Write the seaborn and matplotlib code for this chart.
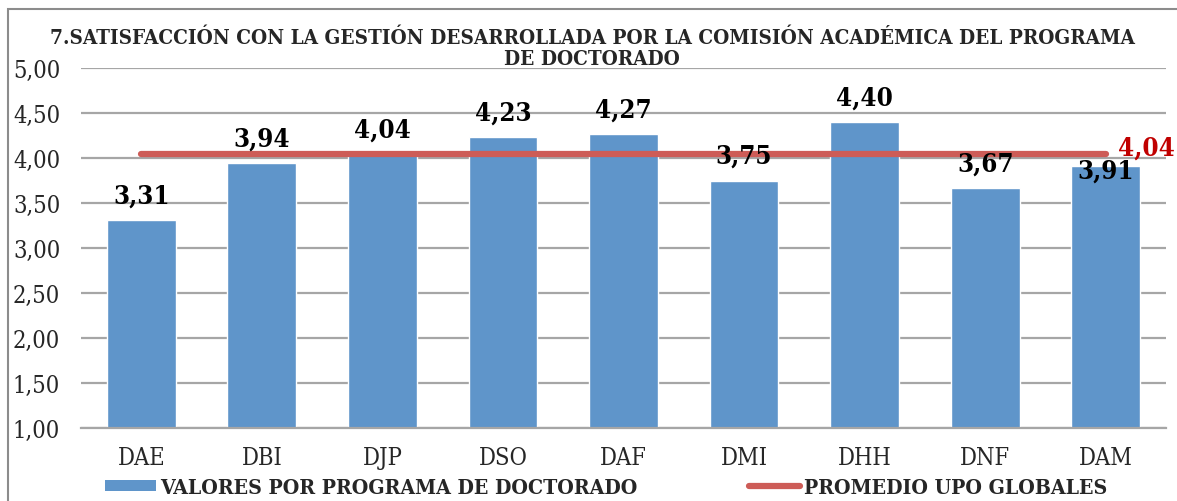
import matplotlib
matplotlib.use("Agg")
import matplotlib.pyplot as plt
import seaborn as sns
import pandas as pd
from matplotlib.patches import Rectangle, Patch
from matplotlib.lines import Line2D
from matplotlib import font_manager as fm

categories = ["DAE", "DBI", "DJP", "DSO", "DAF", "DMI", "DHH", "DNF", "DAM"]
values = [3.31, 3.94, 4.04, 4.23, 4.27, 3.75, 4.40, 3.67, 3.91]
average = 4.04
yticks = [1.0, 1.5, 2.0, 2.5, 3.0, 3.5, 4.0, 4.5, 5.0]
title = "7.SATISFACCIÓN CON LA GESTIÓN DESARROLLADA POR LA COMISIÓN ACADÉMICA DEL PROGRAMA\nDE DOCTORADO"
bar_label = "VALORES POR PROGRAMA DE DOCTORADO"
line_label = "PROMEDIO UPO GLOBALES"

sns.set_theme(style="white")
condensed = [f for f in fm.fontManager.ttflist if "Condensed" in f.fname and "Serif" in f.fname]
FAM = "DejaVu Serif" if condensed else "Liberation Serif"
plt.rcParams["font.family"] = [FAM, "DejaVu Sans"]
STRETCH = "condensed"

bar_color = "#5F95CA"
line_color = "#CD5C57"
grid_color = "#A6A6A6"

fig = plt.figure(figsize=(11.77, 5.02), dpi=100)
ax = fig.add_axes([81 / 1177, 1 - 429 / 502, (1166 - 81) / 1177, (429 - 69) / 502])

df = pd.DataFrame({"cat": categories, "val": values})
sns.barplot(data=df, x="cat", y="val", color=bar_color, width=0.57, ax=ax,
            saturation=1, zorder=2)
dfa = pd.DataFrame({"cat": categories, "avg": [average] * len(categories)})
sns.lineplot(data=dfa, x="cat", y="avg", color=line_color, linewidth=4.5, ax=ax,
             zorder=3, solid_capstyle="round")

ax.set_ylim(1, 5)
ax.set_xlim(-0.5, len(categories) - 0.5)
ax.set_yticks(yticks)
ax.set_yticklabels([f"{v:.2f}".replace(".", ",") for v in yticks],
                   fontsize=17, fontstretch=STRETCH)
ax.set_xticks(range(len(categories)))
ax.set_xticklabels(categories, fontsize=17, fontstretch=STRETCH)
ax.tick_params(axis="y", length=0, pad=15)
ax.tick_params(axis="x", length=0, pad=13)
ax.set_xlabel("")
ax.set_ylabel("")
ax.yaxis.grid(True, color=grid_color, linewidth=1.6, zorder=0)
ax.set_axisbelow(True)
for s in ["top", "right", "left"]:
    ax.spines[s].set_visible(False)
ax.spines["bottom"].set_color(grid_color)
ax.spines["bottom"].set_linewidth(1.6)

last = len(values) - 1
for i, v in enumerate(values):
    txt = f"{v:.2f}".replace(".", ",")
    if i == last:
        # last label sits on the bar top, clear of the average value label
        ax.annotate(txt, (i, v), xytext=(0, -3), textcoords="offset points",
                    ha="center", va="center", fontsize=18.5, fontweight="bold",
                    fontstretch=STRETCH, color="black", zorder=4)
    else:
        ax.annotate(txt, (i, v), xytext=(0, 9), textcoords="offset points",
                    ha="center", va="bottom", fontsize=18.5, fontweight="bold",
                    fontstretch=STRETCH, color="black", zorder=4)

ax.annotate(f"{average:.2f}".replace(".", ","), (last, average),
            xytext=(9, 5), textcoords="offset points", ha="left", va="center",
            fontsize=18.5, fontweight="bold", fontstretch=STRETCH, color="#C00000", zorder=5,
            annotation_clip=False)

fig.text(592 / 1177, 1 - 28 / 502, title, ha="center", va="top", fontsize=14.9,
         fontweight="bold", fontstretch=STRETCH, linespacing=1.08)

handles = [Patch(facecolor=bar_color, edgecolor="none"),
           Line2D([0], [0], color=line_color, linewidth=4.5, solid_capstyle="round")]
leg = fig.legend(handles, [bar_label, line_label], loc="center", ncol=2,
                 bbox_to_anchor=(606 / 1177, 1 - 488 / 502), frameon=False,
                 handlelength=2.4, handleheight=0.45, handletextpad=0.2,
                 columnspacing=5.3,
                 prop=dict(family=FAM, size=15.2, weight="bold", stretch=STRETCH))

fig.patches.append(Rectangle((8 / 1177, -0.01), 1.02, 1 - 10 / 502 + 0.01,
                             transform=fig.transFigure, fill=False,
                             edgecolor="#8C8C8C", linewidth=1.5))

fig.savefig("out.png", dpi=100)
